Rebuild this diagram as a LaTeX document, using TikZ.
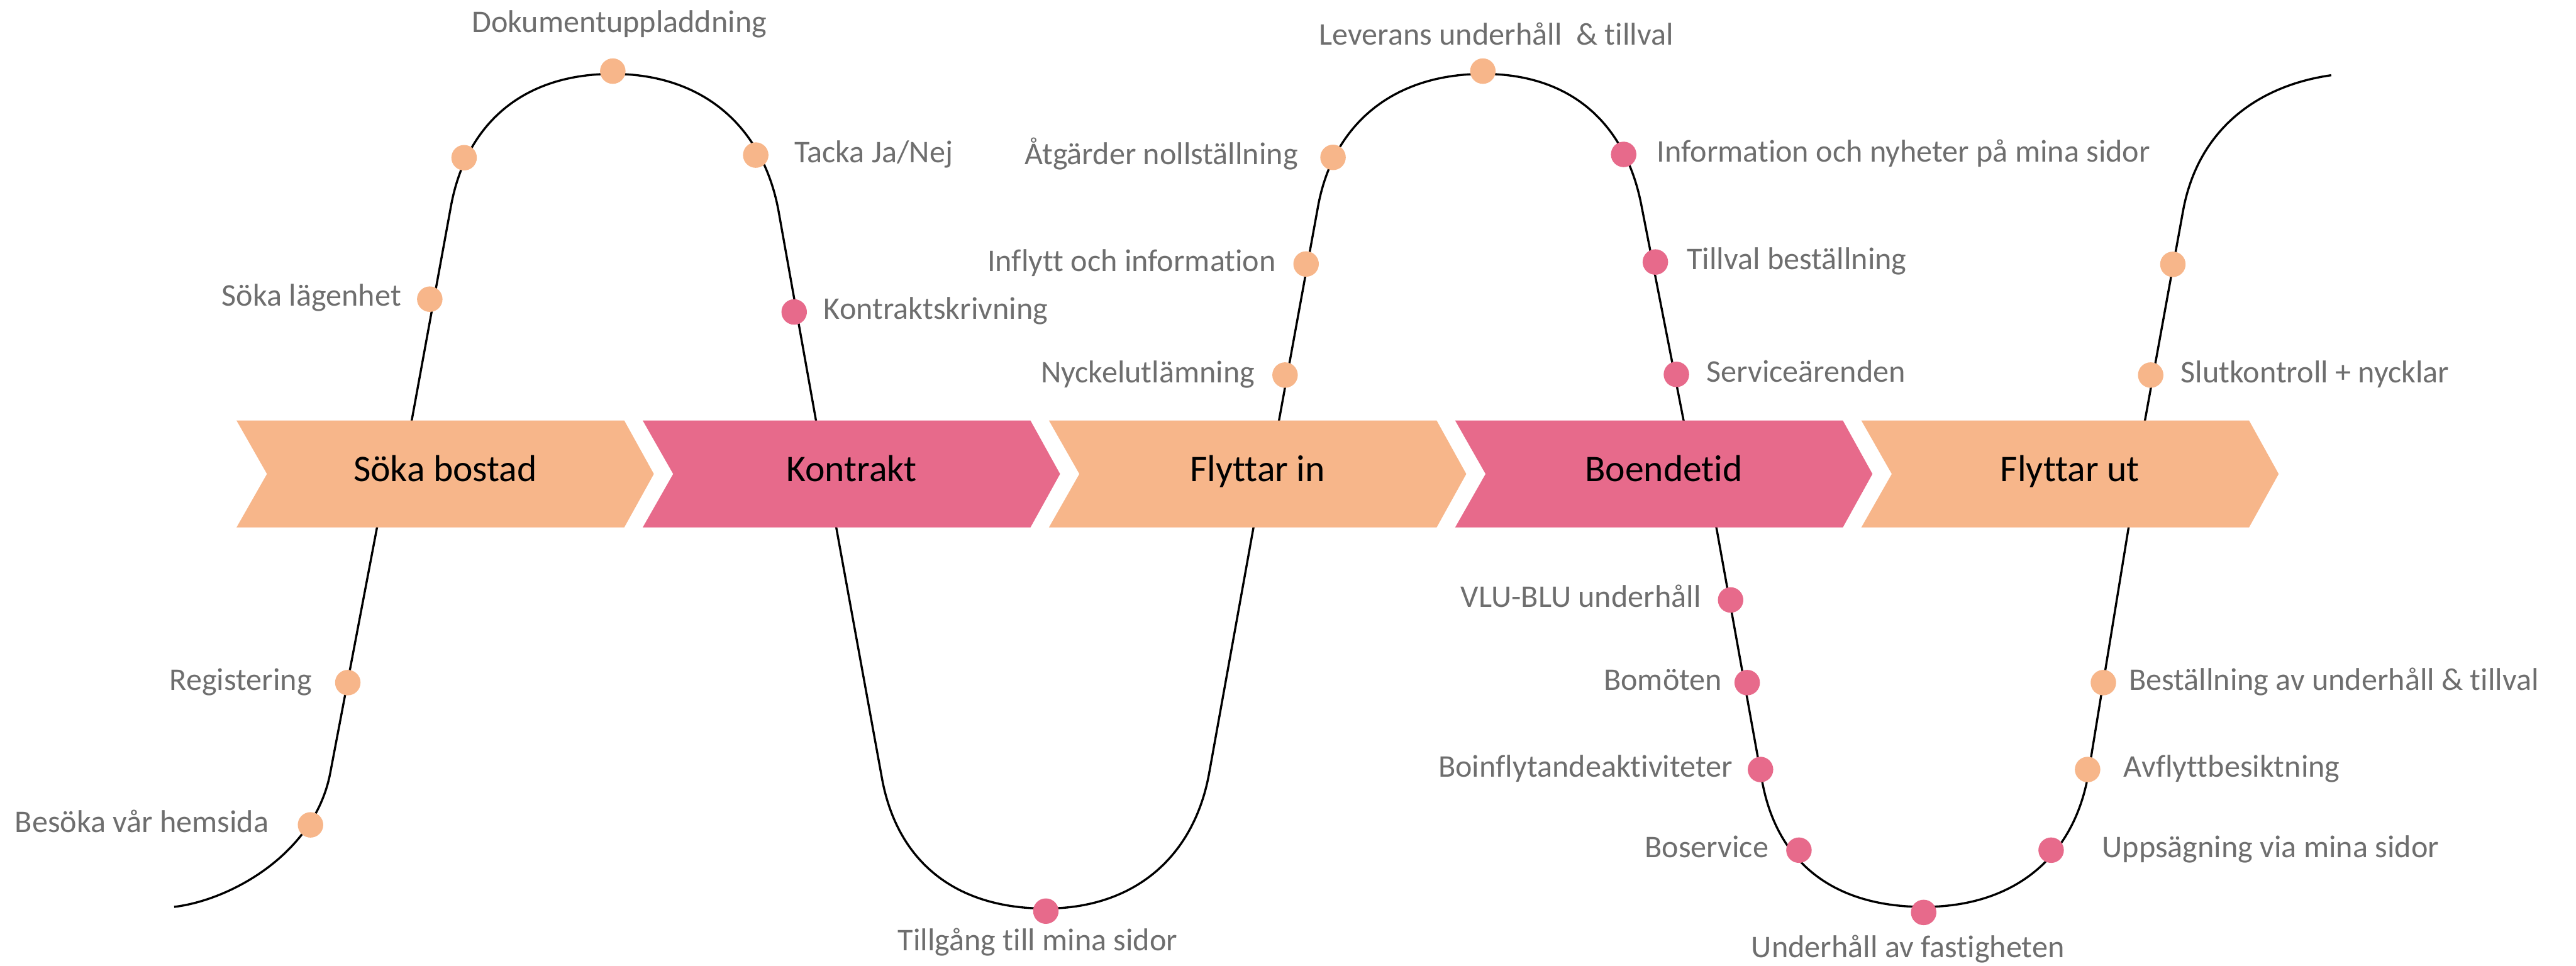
\documentclass[tikz,border=0pt]{standalone}
\usepackage{fontspec}
\setmainfont{Carlito}[Ligatures={NoCommon}]
\definecolor{peach}{HTML}{F7B68A}
\definecolor{rose}{HTML}{E76A8B}
\definecolor{labelgray}{HTML}{6E6E6E}
\begin{document}
\begin{tikzpicture}[x=0.03cm,y=-0.03cm,
  wave/.style={line width=1.1pt, draw=black},
  bead/.style={circle, inner sep=0pt, minimum size=4.65mm, fill=#1},
  lbl/.style={font=\fontsize{16.4}{19}\selectfont, text=labelgray, inner sep=0pt},
  ptxt/.style={font=\fontsize{19.5}{23}\selectfont, text=black, inner sep=0pt}]
\useasboundingbox (0,0) rectangle (1568,587.7);

% the wave
\draw[wave] (106,552) .. controls (140,548) and (191.5,520) .. (201,470.6)
 -- (229.5,321) -- (250.6,256) -- (274.5,125.5)
 .. controls (283.7,75.5) and (318,45) .. (373,45)
 .. controls (428,45) and (464,77) .. (473.7,127.4)
 -- (496.7,256) -- (509,321) -- (537,474.6)
 .. controls (546.5,524.6) and (581.5,553) .. (636.5,553)
 .. controls (691.5,553) and (727,520.6) .. (736,470.6)
 -- (763,321) -- (778.5,256) -- (802.3,125.5)
 .. controls (811.5,75.5) and (848,45) .. (903,45)
 .. controls (958,45) and (990,77) .. (999.2,125.5)
 -- (1024.8,256) -- (1044.8,321.4) -- (1072.6,475.5)
 .. controls (1081.6,525) and (1116,552) .. (1171,552)
 .. controls (1226,552) and (1262,522) .. (1271,472)
 -- (1295.6,321.4) -- (1305.6,256) -- (1328.8,128.4)
 .. controls (1338,78) and (1375,52) .. (1419,45.8);

% phases
\foreach \L/\c/\t/\n in {144/peach/Söka bostad/p1, 391.25/rose/Kontrakt/p2,
  638.5/peach/Flyttar in/p3, 885.75/rose/Boendetid/p4, 1133/peach/Flyttar ut/p5}{
  \fill[\c] (\L,256) -- ++(236,0) -- ++(18,32.5) -- ++(-18,32.5) -- ++(-236,0) -- ++(18.5,-32.5) -- cycle;
  \node[ptxt, anchor=base] (\n) at (\L+127,293) {\t};
}

% beads
\foreach \x/\y/\c/\n in {189/502.1/peach/d1, 211.7/415.5/peach/d2, 261.6/182.1/peach/d3,
  282.5/96/peach/d4, 373/43.3/peach/d5, 460/94.4/peach/d6, 483.4/189.9/rose/d7,
  636.6/554.6/rose/d8, 782.2/228.3/peach/d9, 795/160.7/peach/d10, 811.4/95.8/peach/d11,
  902.6/43.3/peach/d12, 988.3/94/rose/d13, 1007.6/159.5/rose/d14, 1020.4/227.9/rose/d15,
  1053.4/365.2/rose/d16, 1063.5/415.5/rose/d17, 1071.6/468.4/rose/d18, 1095/517.5/rose/d19,
  1170.9/555.4/rose/d20, 1248.5/517.5/rose/d21, 1270.7/468.4/peach/d22,
  1280.3/415.5/peach/d23, 1309.1/228.3/peach/d24, 1322.6/160.9/peach/d25}{
  \node[bead=\c] (\n) at (\x,\y) {};
}

% labels
\node[lbl, anchor=base] (l1) at (377,19.7) {Dokumentuppladdning};
\node[lbl, anchor=base west] (l2) at (483.3,98.8) {Tacka Ja/Nej};
\node[lbl, anchor=base east] (l3) at (244.4,186.4) {Söka lägenhet};
\node[lbl, anchor=base west] (l4) at (501.2,194.4) {Kontraktskrivning};
\node[lbl, anchor=base east] (l5) at (190,420) {Registering};
\node[lbl, anchor=base east] (l6) at (163.8,506.6) {Besöka vår hemsida};
\node[lbl, anchor=base] (l7) at (631.7,578.5) {Tillgång till mina sidor};
\node[lbl, anchor=base] (l8) at (910.8,27.5) {Leverans underhåll~~\& tillval};
\node[lbl, anchor=base east] (l9) at (790.3,100.3) {Åtgärder nollställning};
\node[lbl, anchor=base east] (l10) at (776.9,165.2) {Inflytt och information};
\node[lbl, anchor=base east] (l11) at (764,232.8) {Nyckelutlämning};
\node[lbl, anchor=base west] (l12) at (1008.3,98.5) {Information och nyheter på mina sidor};
\node[lbl, anchor=base west] (l13) at (1026.6,164) {Tillval beställning};
\node[lbl, anchor=base west] (l14) at (1038.5,232.4) {Serviceärenden};
\node[lbl, anchor=base west] (l15) at (1327.3,232.8) {Slutkontroll + nycklar};
\node[lbl, anchor=base east] (l16) at (1035.6,369.7) {VLU-BLU underhåll};
\node[lbl, anchor=base east] (l17) at (1048.4,420) {Bomöten};
\node[lbl, anchor=base east] (l18) at (1054.9,472.9) {Boinflytandeaktiviteter};
\node[lbl, anchor=base east] (l19) at (1076.7,522) {Boservice};
\node[lbl, anchor=base] (l20) at (1161.3,583) {Underhåll av fastigheten};
\node[lbl, anchor=base west] (l21) at (1279.3,522) {Uppsägning via mina sidor};
\node[lbl, anchor=base west] (l22) at (1292.5,472.9) {Avflyttbesiktning};
\node[lbl, anchor=base west] (l23) at (1295.6,420) {Beställning av underhåll \& tillval};
\end{tikzpicture}
\end{document}
